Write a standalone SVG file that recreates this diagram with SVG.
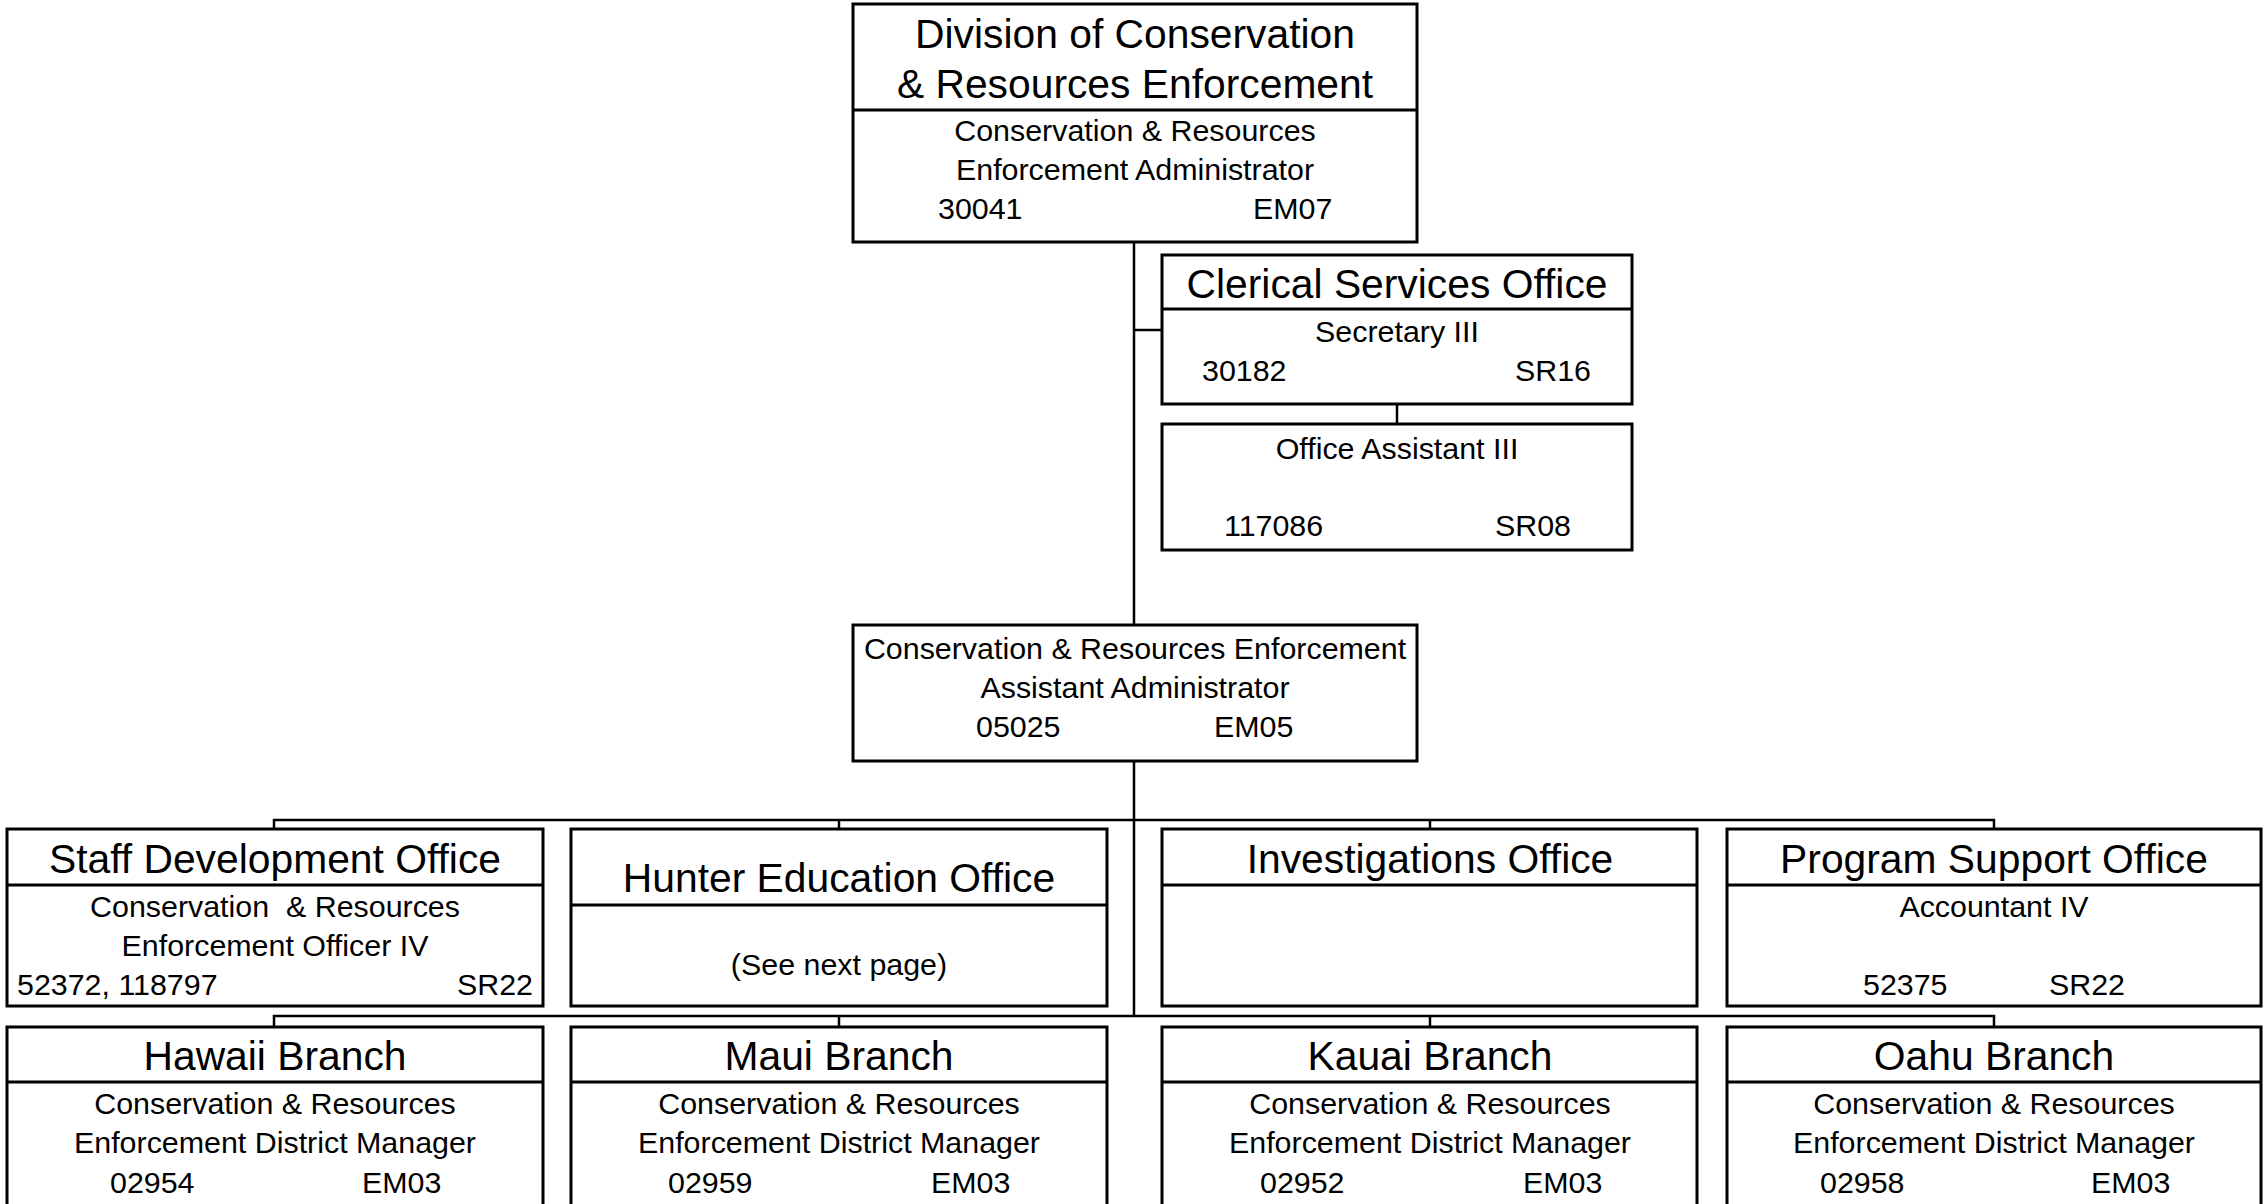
<svg xmlns="http://www.w3.org/2000/svg" width="2263" height="1204" viewBox="0 0 2263 1204">
<style>
.box{fill:#fff;stroke:#000;stroke-width:3}
.div{stroke:#000;stroke-width:3}
.con{stroke:#000;stroke-width:2.5;fill:none}
text{font-family:"Liberation Sans",Arial,sans-serif;fill:#000}
.t{font-size:40.8px;text-anchor:middle}
.s{font-size:30.4px;text-anchor:middle}
.n{font-size:30.4px}
.r{font-size:30.4px;text-anchor:end}
</style>
<rect width="2263" height="1204" fill="#fff"/>
<g id="connectors">
<line class="con" x1="1134" y1="242" x2="1134" y2="625"/>
<line class="con" x1="1134" y1="330" x2="1162" y2="330"/>
<line class="con" x1="1397" y1="404" x2="1397" y2="424"/>
<line class="con" x1="1134" y1="761" x2="1134" y2="1016"/>
<polyline class="con" points="274,829 274,820 1994,820 1994,829"/>
<line class="con" x1="839" y1="820" x2="839" y2="829"/>
<line class="con" x1="1430" y1="820" x2="1430" y2="829"/>
<polyline class="con" points="274,1027 274,1016 1994,1016 1994,1027"/>
<line class="con" x1="839" y1="1016" x2="839" y2="1027"/>
<line class="con" x1="1430" y1="1016" x2="1430" y2="1027"/>
</g>
<g id="division">
<rect class="box" x="853" y="4" width="564" height="238"/>
<line class="div" x1="853" y1="110" x2="1417" y2="110"/>
<text class="t" x="1135" y="48">Division of Conservation</text>
<text class="t" x="1135" y="98">&amp; Resources Enforcement</text>
<text class="s" x="1135" y="141">Conservation &amp; Resources</text>
<text class="s" x="1135" y="180">Enforcement Administrator</text>
<text class="n" x="938" y="219">30041</text>
<text class="n" x="1253" y="219">EM07</text>
</g>
<g id="clerical">
<rect class="box" x="1162" y="255" width="470" height="149"/>
<line class="div" x1="1162" y1="309" x2="1632" y2="309"/>
<text class="t" x="1397" y="298">Clerical Services Office</text>
<text class="s" x="1397" y="342">Secretary III</text>
<text class="n" x="1202" y="381">30182</text>
<text class="n" x="1515" y="381">SR16</text>
</g>
<g id="office-assistant">
<rect class="box" x="1162" y="424" width="470" height="126"/>
<text class="s" x="1397" y="459">Office Assistant III</text>
<text class="n" x="1224" y="536">117086</text>
<text class="n" x="1495" y="536">SR08</text>
</g>
<g id="assistant-admin">
<rect class="box" x="853" y="625" width="564" height="136"/>
<text class="s" x="1135" y="659">Conservation &amp; Resources Enforcement</text>
<text class="s" x="1135" y="698">Assistant Administrator</text>
<text class="n" x="976" y="737">05025</text>
<text class="n" x="1214" y="737">EM05</text>
</g>
<g id="staff-development">
<rect class="box" x="7" y="829" width="536" height="177"/>
<line class="div" x1="7" y1="885" x2="543" y2="885"/>
<text class="t" x="275" y="873">Staff Development Office</text>
<text class="s" x="275" y="917" xml:space="preserve">Conservation  &amp; Resources</text>
<text class="s" x="275" y="956">Enforcement Officer IV</text>
<text class="n" x="17" y="995">52372, 118797</text>
<text class="r" x="533" y="995">SR22</text>
</g>
<g id="hunter-education">
<rect class="box" x="571" y="829" width="536" height="177"/>
<line class="div" x1="571" y1="905" x2="1107" y2="905"/>
<text class="t" x="839" y="892">Hunter Education Office</text>
<text class="s" x="839" y="975">(See next page)</text>
</g>
<g id="investigations">
<rect class="box" x="1162" y="829" width="535" height="177"/>
<line class="div" x1="1162" y1="885" x2="1697" y2="885"/>
<text class="t" x="1430" y="873">Investigations Office</text>
</g>
<g id="program-support">
<rect class="box" x="1727" y="829" width="534" height="177"/>
<line class="div" x1="1727" y1="885" x2="2261" y2="885"/>
<text class="t" x="1994" y="873">Program Support Office</text>
<text class="s" x="1994" y="917">Accountant IV</text>
<text class="n" x="1863" y="995">52375</text>
<text class="n" x="2049" y="995">SR22</text>
</g>
<g id="hawaii">
<rect class="box" x="7" y="1027" width="536" height="190"/>
<line class="div" x1="7" y1="1082" x2="543" y2="1082"/>
<text class="t" x="275" y="1070">Hawaii Branch</text>
<text class="s" x="275" y="1114">Conservation &amp; Resources</text>
<text class="s" x="275" y="1153">Enforcement District Manager</text>
<text class="n" x="110" y="1193">02954</text>
<text class="n" x="362" y="1193">EM03</text>
</g>
<g id="maui">
<rect class="box" x="571" y="1027" width="536" height="190"/>
<line class="div" x1="571" y1="1082" x2="1107" y2="1082"/>
<text class="t" x="839" y="1070">Maui Branch</text>
<text class="s" x="839" y="1114">Conservation &amp; Resources</text>
<text class="s" x="839" y="1153">Enforcement District Manager</text>
<text class="n" x="668" y="1193">02959</text>
<text class="n" x="931" y="1193">EM03</text>
</g>
<g id="kauai">
<rect class="box" x="1162" y="1027" width="535" height="190"/>
<line class="div" x1="1162" y1="1082" x2="1697" y2="1082"/>
<text class="t" x="1430" y="1070">Kauai Branch</text>
<text class="s" x="1430" y="1114">Conservation &amp; Resources</text>
<text class="s" x="1430" y="1153">Enforcement District Manager</text>
<text class="n" x="1260" y="1193">02952</text>
<text class="n" x="1523" y="1193">EM03</text>
</g>
<g id="oahu">
<rect class="box" x="1727" y="1027" width="534" height="190"/>
<line class="div" x1="1727" y1="1082" x2="2261" y2="1082"/>
<text class="t" x="1994" y="1070">Oahu Branch</text>
<text class="s" x="1994" y="1114">Conservation &amp; Resources</text>
<text class="s" x="1994" y="1153">Enforcement District Manager</text>
<text class="n" x="1820" y="1193">02958</text>
<text class="n" x="2091" y="1193">EM03</text>
</g>
</svg>
